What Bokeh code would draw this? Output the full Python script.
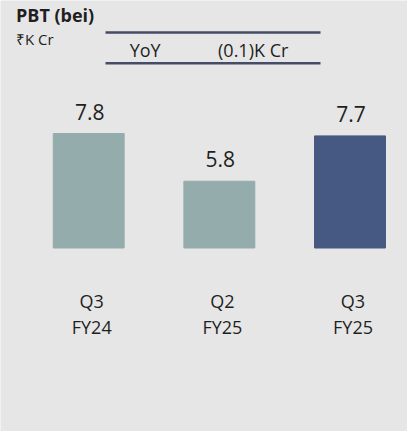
from bokeh.plotting import figure
from bokeh.models import Range1d, Label, BoxAnnotation, ColumnDataSource
from bokeh.core.properties import value
from bokeh.embed import file_html
from bokeh.resources import INLINE

# ---- data ----
title = "PBT (bei)"
unit = "₹K Cr"
yoy_label = "YoY"
yoy_value = "(0.1)K Cr"
quarters = ["Q3", "Q2", "Q3"]
years = ["FY24", "FY25", "FY25"]
values = [7.8, 5.8, 7.7]
value_labels = ["7.8", "5.8", "7.7"]
colors = ["#95acad", "#95acad", "#455982"]
base = 3.0

# ---- layout ----
BG = "#e6e6e6"
LINE = "#454c66"
TXT = "#1f1f1f"
FONT_NAME = "Open Sans"
FONT = value(FONT_NAME)
W, H = 407, 431
OX, OY = 0, 0          # offset of the canvas in the picture
kx, ky = 130.65, 23.85  # px per data unit
x0_page, base_page = 88.2, 247.5
DY = -7                 # baseline correction

x_start = -(x0_page - OX) / kx
x_end = x_start + W / kx
y_start = base - (H - (base_page - OY)) / ky
y_end = y_start + H / ky


def px(xp):
    return x_start + (xp - OX) / kx


def py(yp):
    return y_end - (yp + DY - OY) / ky


p = figure(width=W, height=H, x_range=Range1d(x_start, x_end),
           y_range=Range1d(y_start, y_end), output_backend="svg",
           toolbar_location=None, min_border=0,
           x_axis_location=None, y_axis_location=None)
p.grid.visible = False
p.outline_line_color = None
p.background_fill_color = BG
p.border_fill_color = BG

src = ColumnDataSource(dict(x=list(range(len(values))), top=values,
                            label=value_labels, color=colors,
                            q=quarters, fy=years))

p.vbar(x="x", top="top", bottom=base, width=0.543, color="color", source=src)
p.text(x="x", y="top", text="label", source=src, text_align="center",
       text_baseline="alphabetic", y_offset=-22, x_offset=1, text_font=FONT,
       text_font_size="21px", text_color=TXT)
p.text(x="x", y=py(307.5), text="q", source=src, text_align="center",
       text_baseline="alphabetic", x_offset=3, text_font=FONT,
       text_font_size="18px", text_color=TXT)
p.text(x="x", y=py(333), text="fy", source=src, text_align="center",
       text_baseline="alphabetic", x_offset=3, text_font=FONT,
       text_font_size="18px", text_color=TXT)

p.add_layout(Label(x=px(15.5), y=py(21.5), text=title, text_font=FONT_NAME,
                   text_font_style="bold", text_font_size="18px",
                   text_color=TXT, text_baseline="alphabetic", text_align="left"))
p.add_layout(Label(x=px(15.5), y=py(45.5), text=unit, text_font=FONT_NAME,
                   text_font_size="15px", text_color=TXT,
                   text_baseline="alphabetic", text_align="left"))
p.add_layout(Label(x=px(144.7), y=py(56), text=yoy_label, text_font=FONT_NAME,
                   text_font_size="18px", text_color=TXT,
                   text_baseline="alphabetic", text_align="center"))
p.add_layout(Label(x=px(252.7), y=py(56), text=yoy_value, text_font=FONT_NAME,
                   text_font_size="18px", text_color=TXT,
                   text_baseline="alphabetic", text_align="center"))

for yl in (32.0, 62.8):
    p.add_layout(BoxAnnotation(left=px(105), right=px(320),
                               top=py(yl - 1.2 - DY), bottom=py(yl + 1.2 - DY),
                               fill_color=LINE, fill_alpha=1, line_color=None))

open("out.html", "w").write(file_html(p, INLINE))
